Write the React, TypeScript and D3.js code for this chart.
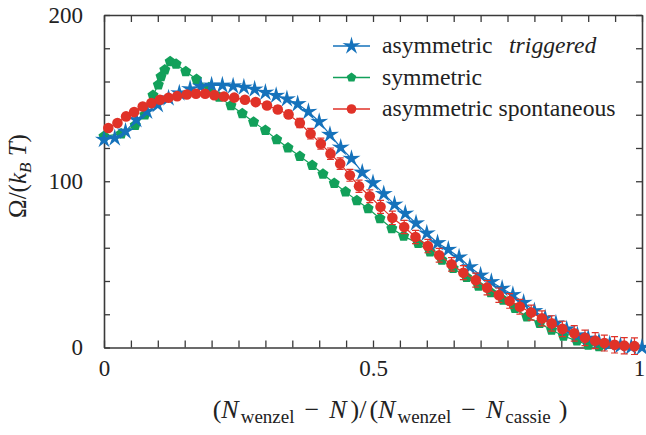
import React, { useEffect, useRef } from 'react'
import * as d3 from 'd3'

// asymmetric triggered (blue stars)
const blueX = [0, 0.02, 0.04, 0.06, 0.08, 0.1, 0.12, 0.14, 0.16, 0.18, 0.2, 0.22, 0.24, 0.26, 0.28, 0.3, 0.32, 0.34, 0.36, 0.38, 0.4, 0.42, 0.44, 0.46, 0.48, 0.5, 0.52, 0.54, 0.56, 0.58, 0.6, 0.62, 0.64, 0.66, 0.68, 0.7, 0.72, 0.74, 0.76, 0.78, 0.8, 0.82, 0.84, 0.86, 0.88, 0.9, 0.92, 0.94, 0.96, 0.98, 1]
const blueY = [125, 126, 130, 137, 142, 146, 150, 153, 155.5, 157, 157.7, 157.7, 157.2, 156.5, 155.3, 153.4, 151.5, 149.4, 146.5, 141.8, 135.8, 128, 120.3, 113.6, 105.3, 99, 92.4, 86, 80.6, 74.8, 68.7, 62.9, 58.9, 54.3, 48.4, 43.4, 39.5, 35.5, 31.7, 27, 22, 17.7, 14.6, 11, 7.5, 5.5, 3.5, 2, 1, 0.3, 0]

// symmetric (green pentagons)
const greenX = [0, 0.032, 0.058, 0.076, 0.091, 0.101, 0.106, 0.113, 0.123, 0.134, 0.152, 0.172, 0.195, 0.214, 0.236, 0.257, 0.278, 0.3, 0.321, 0.342, 0.364, 0.387, 0.407, 0.428, 0.449, 0.47, 0.491, 0.513, 0.535, 0.557, 0.584, 0.606, 0.628, 0.649, 0.674, 0.696, 0.719, 0.742, 0.764, 0.786, 0.81, 0.832, 0.854, 0.879, 0.9, 0.92]
const greenY = [127, 128.6, 133.6, 140, 151.7, 158, 163, 167, 172, 170.5, 166, 161.3, 156.3, 150.6, 145.6, 140.7, 135.6, 130.6, 125.1, 120.1, 115, 109.6, 104.4, 98.8, 93.6, 88.4, 83.6, 77.6, 71.6, 67, 62.6, 57.5, 52.6, 47.6, 42.2, 37, 33, 28.5, 23.5, 18.5, 14.5, 10.5, 6.9, 4, 1.5, 0.5]

// asymmetric spontaneous (red circles, with error bars)
const redX = [0.008, 0.025, 0.041, 0.056, 0.072, 0.088, 0.104, 0.12, 0.136, 0.154, 0.171, 0.188, 0.205, 0.223, 0.242, 0.262, 0.282, 0.303, 0.323, 0.343, 0.364, 0.384, 0.403, 0.421, 0.439, 0.457, 0.474, 0.494, 0.514, 0.536, 0.558, 0.579, 0.602, 0.623, 0.646, 0.668, 0.691, 0.712, 0.734, 0.754, 0.773, 0.794, 0.814, 0.832, 0.852, 0.874, 0.894, 0.913, 0.93, 0.949, 0.967, 0.986]
const redY = [132, 135, 139, 141.6, 145, 147, 149, 150.2, 151.2, 152.2, 152.6, 152.6, 151.8, 151, 150.3, 149, 147.6, 145.6, 143.2, 140.2, 135, 128.6, 122.6, 116.6, 110.6, 103.6, 97, 91, 84.6, 78, 72.5, 66.5, 61, 55.5, 50, 45, 40.5, 36, 31.5, 28, 24.5, 21, 17.5, 14.5, 11.2, 8.5, 5.8, 4.1, 2.7, 1.6, 1.1, 0.8]
const redErr = [0.8, 0.8, 0.8, 0.8, 0.8, 0.8, 0.8, 0.8, 0.8, 0.8, 0.8, 0.9, 1, 1, 1.2, 1.4, 1.6, 1.8, 2, 2.4, 2.8, 3.2, 3.3, 3.4, 3.5, 3.6, 3.7, 3.8, 3.9, 4, 4, 4, 4, 4.1, 4.1, 4.2, 4.2, 4.3, 4.3, 4.4, 4.4, 4.5, 4.5, 4.6, 4.6, 4.7, 4.7, 4.8, 4.8, 4.9, 4.9, 5]

const xLabelTicks = [0, 0.5, 1]
const yLabelTicks = [0, 100, 200]

const W = 646
const H = 435
const BLUE = '#1572bb'
const GREEN = '#12a05a'
const RED = '#e03228'
const AXIS = '#3a3a3a'
const FONT = 'Liberation Serif, DejaVu Serif, serif'

// 5 pointed star / pentagon paths around (0,0)
const starPath = (R: number, r: number) =>
  d3.lineRadial<number>().angle(i => i * Math.PI / 5).radius(i => (i % 2 ? r : R)).curve(d3.curveLinearClosed)(d3.range(10)) as string
const pentPath = (R: number) =>
  d3.lineRadial<number>().angle(i => i * 2 * Math.PI / 5).radius(R).curve(d3.curveLinearClosed)(d3.range(5)) as string

export default function App() {
  const svgRef = useRef<SVGSVGElement>(null)

  useEffect(() => {
    const svg = d3.select(svgRef.current)
    svg.selectAll('*').remove()

    const x = d3.scaleLinear().domain([0, 1]).range([104, 642])
    const y = d3.scaleLinear().domain([0, 200]).range([347.5, 15])

    const xMinor = d3.range(0, 1.0001, 0.05)
    const yMinor = d3.range(0, 200.1, 20)
    const fmtX = (d: any) => (xLabelTicks.some(t => Math.abs(t - d) < 1e-6) ? d3.format('')(d) : '')
    const fmtY = (d: any) => (yLabelTicks.includes(Math.round(d)) ? String(Math.round(d)) : '')

    const styleAxis = (g: any) => {
      g.attr('font-family', null).attr('font-size', null)
      g.select('.domain').attr('stroke', AXIS).attr('stroke-width', 1.6)
      g.selectAll('.tick line').attr('stroke', AXIS).attr('stroke-width', 1.3)
      g.selectAll('.tick text').style('font-family', FONT).style('font-size', '23px').attr('fill', '#222')
    }

    svg.append('g').attr('transform', 'translate(0,347.5)')
      .call(d3.axisBottom(x).tickValues(xMinor).tickSize(-7).tickSizeOuter(0).tickPadding(12).tickFormat(fmtX))
      .call(styleAxis)
      .selectAll('.tick text').filter((d: any) => d > 0.99).attr('dx', -3)
    svg.append('g').attr('transform', 'translate(0,15)')
      .call(d3.axisTop(x).tickValues(xMinor).tickSize(-7).tickSizeOuter(0).tickFormat(() => ''))
      .call(styleAxis)
    svg.append('g').attr('transform', 'translate(104,0)')
      .call(d3.axisLeft(y).tickValues(yMinor).tickSize(-6).tickSizeOuter(0).tickPadding(21).tickFormat(fmtY))
      .call(styleAxis)
    svg.append('g').attr('transform', 'translate(642,0)')
      .call(d3.axisRight(y).tickValues(yMinor).tickSize(-6).tickSizeOuter(0).tickFormat(() => ''))
      .call(styleAxis)

    const line = d3.line<[number, number]>().x(d => x(d[0])).y(d => y(d[1]))
    const green = greenX.map((v, i) => [v, greenY[i]] as [number, number])
    const blue = blueX.map((v, i) => [v, blueY[i]] as [number, number])
    const red = redX.map((v, i) => [v, redY[i]] as [number, number])

    // symmetric
    svg.append('path').attr('d', line(green)).attr('fill', 'none').attr('stroke', GREEN).attr('stroke-width', 1.2)
    svg.selectAll('.gp').data(green).enter().append('path')
      .attr('transform', d => `translate(${x(d[0])},${y(d[1])})`)
      .attr('d', pentPath(5.8)).attr('fill', GREEN)

    // asymmetric triggered
    svg.append('path').attr('d', line(blue)).attr('fill', 'none').attr('stroke', BLUE).attr('stroke-width', 1.2)
    svg.selectAll('.bs').data(blue).enter().append('path')
      .attr('transform', d => `translate(${x(d[0])},${y(d[1])})`)
      .attr('d', starPath(9.5, 3.2)).attr('fill', BLUE)

    // asymmetric spontaneous
    svg.append('path').attr('d', line(red)).attr('fill', 'none').attr('stroke', RED).attr('stroke-width', 1.2)
    const eb = svg.append('g').attr('stroke', RED).attr('stroke-width', 1.2).attr('fill', 'none')
    red.forEach((d, i) => {
      const cx = x(d[0]), y0 = y(d[1] - redErr[i]), y1 = y(d[1] + redErr[i])
      eb.append('path').attr('d', `M${cx},${y0}V${y1}M${cx - 3.5},${y0}H${cx + 3.5}M${cx - 3.5},${y1}H${cx + 3.5}`)
    })
    svg.selectAll('.rc').data(red).enter().append('circle')
      .attr('cx', d => x(d[0])).attr('cy', d => y(d[1])).attr('r', 5.3).attr('fill', RED)

    // legend
    const leg = svg.append('g').style('font-family', FONT).style('font-size', '23.7px').attr('fill', '#222')
    const rows = [
      { cy: 46, color: BLUE, mark: starPath(9.5, 3.2) },
      { cy: 77.5, color: GREEN, mark: pentPath(5) },
      { cy: 109, color: RED, mark: null },
    ]
    rows.forEach(r => {
      leg.append('line').attr('x1', 333).attr('x2', 370).attr('y1', r.cy).attr('y2', r.cy).attr('stroke', r.color).attr('stroke-width', 1.4)
      if (r.mark) leg.append('path').attr('d', r.mark).attr('transform', `translate(351.5,${r.cy})`).attr('fill', r.color)
      else leg.append('circle').attr('cx', 351.5).attr('cy', r.cy).attr('r', 4.8).attr('fill', r.color)
    })
    const t1 = leg.append('text').attr('x', 382).attr('y', 53)
    t1.append('tspan').text('asymmetric')
    t1.append('tspan').attr('dx', 16.5).style('font-style', 'italic').text('triggered')
    leg.append('text').attr('x', 382).attr('y', 84.5).text('symmetric')
    leg.append('text').attr('x', 382).attr('y', 116).text('asymmetric spontaneous')

    // y label
    const yl = svg.append('text').attr('transform', 'translate(26,176) rotate(-90)')
      .attr('text-anchor', 'middle').style('font-family', FONT).style('font-size', '25px').attr('fill', '#222')
    yl.append('tspan').text('Ω/(')
    yl.append('tspan').style('font-style', 'italic').text('k')
    yl.append('tspan').style('font-style', 'italic').style('font-size', '17px').attr('dy', 5).text('B')
    yl.append('tspan').attr('dy', -5).text('\u00a0')
    yl.append('tspan').style('font-style', 'italic').text('T')
    yl.append('tspan').text(')')

    // x label
    const xl = svg.append('text').attr('x', 390).attr('y', 418)
      .attr('text-anchor', 'middle').style('font-family', FONT).style('font-size', '26px').attr('fill', '#222')
    const N = (dx = 0) => xl.append('tspan').attr('dx', dx).style('font-style', 'italic').text('N')
    const sub = (s: string) => xl.append('tspan').style('font-size', '19px').attr('dx', 2).attr('dy', 5).text(s)
    const txt = (s: string, dx: number, dy = 0) => xl.append('tspan').attr('dx', dx).attr('dy', dy).text(s)
    txt('(', 0)
    N(); sub('wenzel')
    txt('\u2212', 10, -5)
    N(10)
    txt(')/', 4)
    txt('(', 3)
    N(); sub('wenzel')
    txt('\u2212', 10, -5)
    N(10); sub('cassie')
    txt(')', 8, -5)
  }, [])

  return (
    <>
      <style>{'body{margin:0}'}</style>
      <svg ref={svgRef} width={W} height={H} style={{ display: 'block', background: '#fff' }} />
    </>
  )
}
